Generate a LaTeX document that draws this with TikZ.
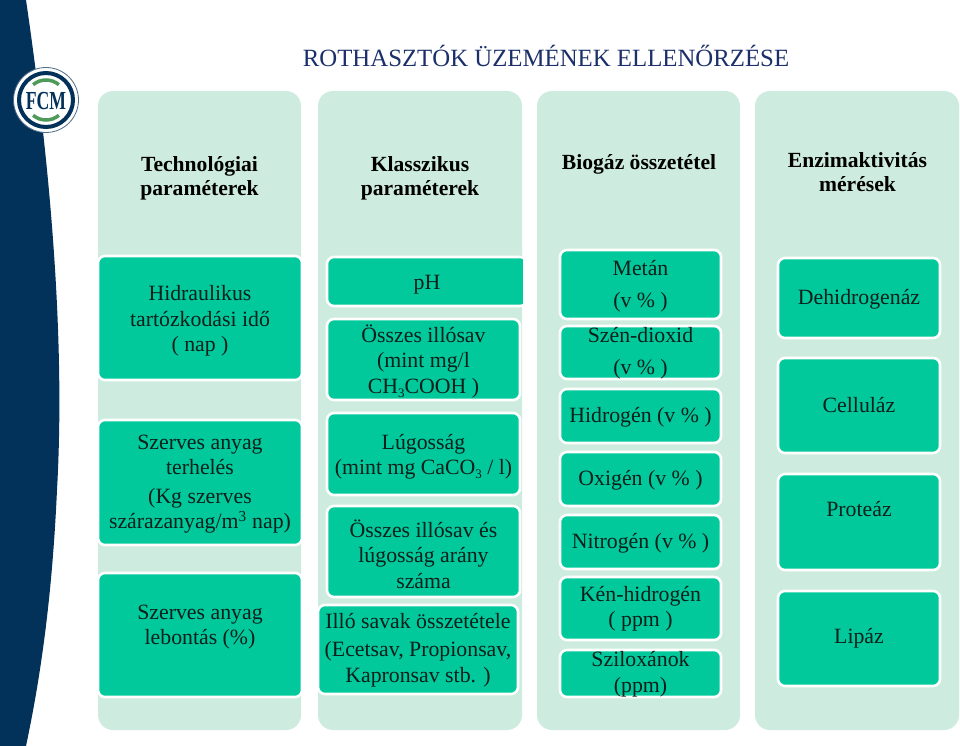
\documentclass[tikz,border=0pt]{standalone}
\usepackage{fontspec}
\setmainfont{Liberation Serif}
\definecolor{navy}{HTML}{02315A}
\definecolor{pale}{HTML}{CDEBDF}
\definecolor{teal}{HTML}{02C99C}
\definecolor{ink}{HTML}{0B1F1A}
\definecolor{titleblue}{HTML}{1B2F6B}
\definecolor{logogreen}{HTML}{4E9A5B}
\tikzset{
  panel/.style={fill=pale,draw=none,rounded corners=15pt,inner sep=0pt},
  tealbox/.style={fill=teal,draw=white,line width=2.6pt,rounded corners=7pt,inner sep=0pt},
  bt/.style={font=\fontsize{21.8}{25.5}\selectfont,text=ink,align=center,inner sep=0pt},
  ht/.style={font=\bfseries\fontsize{21.6}{24}\selectfont,text=black,align=center,inner sep=0pt},
}
\newcommand{\panelbox}[5]{% name x1 y1 x2 y2
  \node[panel,minimum width=#4-#2,minimum height=#5-#3] (#1) at ({(#2+#4)/2},{(#3+#5)/2}) {};
}
\newcommand{\tbox}[7]{% name x1 y1 x2 y2 text-center-y text
  \node[tealbox,minimum width=#4-#2,minimum height=#5-#3] (#1) at ({(#2+#4)/2},{(#3+#5)/2}) {};
  \node[bt] (#1t) at ({(#2+#4)/2},#6) {#7};
}
\newcommand{\lowsub}[1]{\raisebox{-4pt}{\fontsize{13}{13}\selectfont #1}}
\begin{document}
\begin{tikzpicture}[x=1pt,y=-1pt]
\useasboundingbox (0,0) rectangle (960,746);
\fill[white] (0,0) rectangle (960,746);
% navy band
\fill[navy] (0,0) -- (26,0) .. controls (48,150) and (66,330) .. (57,490) .. controls (52,600) and (40,680) .. (26,746) -- (0,746) -- cycle;
% logo
\node[circle,fill=white,draw=navy!70,line width=0.8pt,minimum size=65pt,inner sep=0pt] (logo) at (46,100) {};
\node[circle,draw=navy,line width=4pt,minimum size=54pt,inner sep=0pt] (logoring) at (46,100) {};
\draw[logogreen,line width=3.5pt] (46,100) ++(50:20) arc (50:130:20);
\draw[logogreen,line width=3.5pt] (46,100) ++(-50:20) arc (-50:-130:20);
\node[font=\bfseries\fontsize{26}{26}\selectfont,text=navy,inner sep=0pt,xscale=0.68] (logot) at (46,101) {FCM};
% title
\node[font=\fontsize{24.8}{28}\selectfont,text=titleblue,inner sep=0pt] (title) at (546,56) {ROTHASZTÓK ÜZEMÉNEK ELLENŐRZÉSE};
% panels
\panelbox{p1}{98}{91}{301}{730}
\panelbox{p2}{318}{91}{522}{730}
\panelbox{p3}{537}{91}{740}{730}
\panelbox{p4}{755}{91}{959}{730}
\node[ht] (h1) at (199.5,178.5) {Technológiai\\paraméterek};
\node[ht] (h2) at (420,178.5) {Klasszikus\\paraméterek};
\node[ht] (h3) at (639,164.5) {Biogáz összetétel};
\node[ht] (h4) at (857.5,172) {Enzimaktivitás\\mérések};
% column 1
\tbox{a1}{98}{256}{302}{380}{321}{Hidraulikus\\tartózkodási idő\\( nap )}
\tbox{a2}{98}{420}{302}{545}{484}{Szerves anyag\\terhelés\\[3pt](Kg szerves\\szárazanyag/m\textsuperscript{3} nap)}
\tbox{a3}{98}{573}{302}{697}{627}{Szerves anyag\\lebontás (\%)}
% column 2
\tbox{b1}{327}{257}{527}{306}{284.5}{pH}
\fill[white] (522.5,250) rectangle (536,312);
\tbox{b2}{327}{319}{520}{400}{361}{Összes illósav\\(mint mg/l\\CH\lowsub{3}COOH )}
\tbox{b3}{327}{413}{520}{495}{457}{Lúgosság\\(mint mg CaCO\lowsub{3} / l)}
\tbox{b4}{327}{506}{520}{597}{554}{Összes illósav és\\lúgosság arány\\száma}
\tbox{b5}{318}{605}{518}{694}{650}{Illó savak összetétele\\[3pt](Ecetsav, Propionsav,\\Kapronsav stb. )}
% column 3
\tbox{c1}{560}{250}{721}{319}{286}{Metán\\[6pt](v \% )}
\tbox{c2}{560}{326}{721}{379}{353}{Szén-dioxid\\[6pt](v \% )}
\tbox{c3}{560}{389}{721}{443}{417}{Hidrogén (v \% )}
\tbox{c4}{560}{452}{721}{506}{480}{Oxigén (v \% )}
\tbox{c5}{560}{515}{721}{569}{543}{Nitrogén (v \% )}
\tbox{c6}{560}{577}{721}{640}{608.5}{Kén-hidrogén\\( ppm )}
\tbox{c7}{560}{650}{721}{697}{674}{Sziloxánok\\(ppm)}
% column 4
\tbox{d1}{778}{258}{940}{338}{299}{Dehidrogenáz}
\tbox{d2}{778}{358}{940}{453}{405.5}{Celluláz}
\tbox{d3}{778}{474}{940}{570}{509.5}{Proteáz}
\tbox{d4}{778}{591}{940}{686}{638.5}{Lipáz}
\end{tikzpicture}
\end{document}
